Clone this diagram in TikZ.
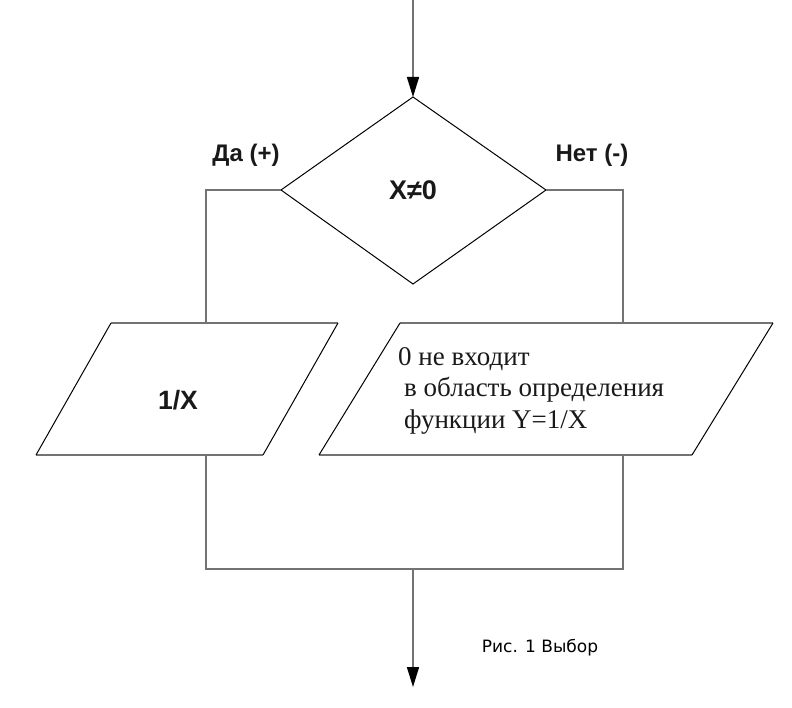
\documentclass[tikz,border=0pt]{standalone}
\usepackage{fontspec}
\setmainfont{Liberation Serif}
\newfontfamily\lsans{Liberation Sans}
\newfontfamily\djv{DejaVu Sans}
\usetikzlibrary{arrows.meta}
\tikzset{
  conn/.style={draw=black!55, line width=1.6},
  slant/.style={draw=black, line width=1},
  arr/.style={conn, -{Triangle[length=20,width=12,fill=black,color=black]}},
  boldlbl/.style={font=\lsans\bfseries\fontsize{24}{28}\selectfont, text=black!90, inner sep=0},
}
\begin{document}
\begin{tikzpicture}[x=1pt,y=-1pt]
\useasboundingbox (0,0) rectangle (792,708);
% diamond corners
\coordinate (dt) at (413,97);
\coordinate (dl) at (281,190);
\coordinate (dr) at (546,190);
\coordinate (db) at (413,284);
% left parallelogram
\coordinate (l1) at (111,323);
\coordinate (l2) at (338,323);
\coordinate (l3) at (263,455);
\coordinate (l4) at (36,455);
\coordinate (lt) at (206,323);
\coordinate (lb) at (206,455);
% right parallelogram
\coordinate (r1) at (400,323);
\coordinate (r2) at (773,323);
\coordinate (r3) at (692,455);
\coordinate (r4) at (319,455);
\coordinate (rt) at (623,323);
\coordinate (rb) at (623,455);
% junctions
\coordinate (jl) at (206,569);
\coordinate (jr) at (623,569);
\coordinate (jm) at (413,569);
\coordinate (start) at (413,0);
\coordinate (finish) at (413,687);

% diamond
\draw[slant] (dt) -- (dr) -- (db) -- (dl) -- cycle;
\node[font=\lsans\bfseries\fontsize{27}{30}\selectfont, text=black!90, inner sep=0] (cond) at (413,190) {X≠0};
% left parallelogram
\draw[conn] (l1) -- (l2) (l4) -- (l3);
\draw[slant] (l2) -- (l3) (l4) -- (l1);
\node[font=\lsans\bfseries\fontsize{26.5}{30}\selectfont, text=black!90, inner sep=0] (calc) at (178,400) {1/X};
% right parallelogram
\draw[conn] (r1) -- (r2) (r4) -- (r3);
\draw[slant] (r2) -- (r3) (r4) -- (r1);
\node[font=\fontsize{27}{31.5}\selectfont, text=black!90, inner sep=0, align=left, anchor=north west] (msg) at (398,347)
  {0 не входит\\\hspace*{6pt}в область определения\\\hspace*{6pt}функции Y=1/X};
% labels
\node[boldlbl] (yes) at (246,155) {Да (+)};
\node[boldlbl] (no) at (592,155) {Нет (-)};
\node[font=\djv\fontsize{17}{20}\selectfont, inner sep=0] (cap) at (540,648) {Рис. 1 Выбор};
% connectors
\draw[arr] (start) -- (dt);
\draw[conn] (dl) -| (lt);
\draw[conn] (dr) -| (rt);
\draw[conn] (lb) -- (jl) -- (jr) -- (rb);
\draw[arr] (jm) -- (finish);
\end{tikzpicture}
\end{document}
